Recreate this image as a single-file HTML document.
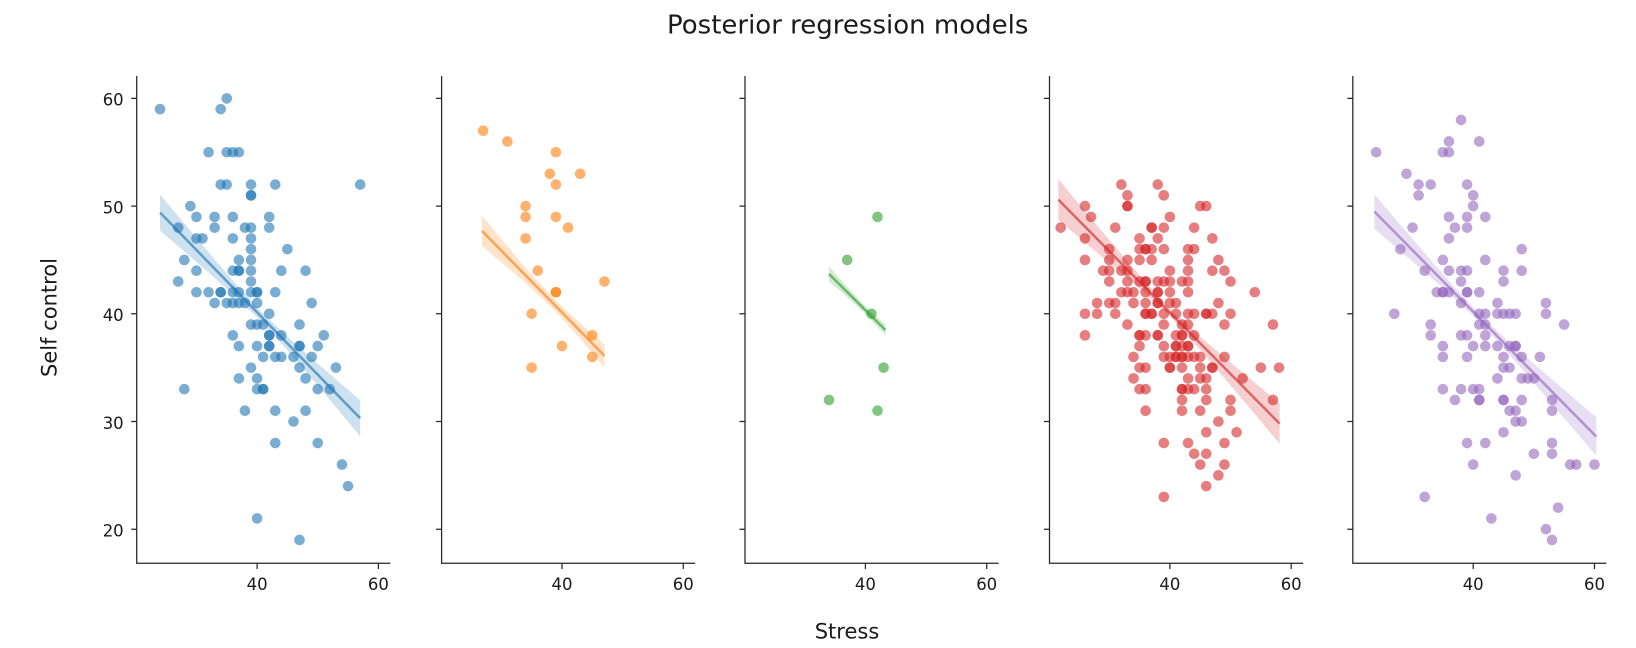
<!DOCTYPE html>
<html>
<head>
<meta charset="utf-8">
<style>
html,body{margin:0;padding:0;background:#fff;}
svg{display:block;}
text{font-family:"DejaVu Sans","Liberation Sans",sans-serif;fill:#1a1a1a;}
.tk{font-size:16.5px;}
.lb{font-size:21px;}
.ti{font-size:26px;}
.ax{stroke:#262626;stroke-width:1.25;fill:none;}
</style>
</head>
<body>
<svg width="1636" height="648" viewBox="0 0 1636 648" xmlns="http://www.w3.org/2000/svg">
<rect width="1636" height="648" fill="#fff"/>
<text class="ti" x="847.7" y="33.5" text-anchor="middle">Posterior regression models</text>
<text class="lb" x="847" y="638.3" text-anchor="middle">Stress</text>
<text class="lb" transform="translate(56.7 317.5) rotate(-90)" text-anchor="middle">Self control</text>

<!-- Panel 1 (blue) -->
<g transform="matrix(6.065 0 0 -10.77 14.49 744.6)">
<g fill="#1f77b4" fill-opacity="0.6">
<ellipse cx="24" cy="59" rx=".874" ry=".492"/><ellipse cx="35" cy="60" rx=".874" ry=".492"/><ellipse cx="34" cy="59" rx=".874" ry=".492"/><ellipse cx="32" cy="55" rx=".874" ry=".492"/><ellipse cx="35" cy="55" rx=".874" ry=".492"/><ellipse cx="36" cy="55" rx=".874" ry=".492"/><ellipse cx="37" cy="55" rx=".874" ry=".492"/><ellipse cx="34" cy="52" rx=".874" ry=".492"/><ellipse cx="35" cy="52" rx=".874" ry=".492"/><ellipse cx="39" cy="52" rx=".874" ry=".492"/><ellipse cx="39" cy="51" rx=".874" ry=".492"/><ellipse cx="39" cy="51" rx=".874" ry=".492"/><ellipse cx="43" cy="52" rx=".874" ry=".492"/><ellipse cx="57" cy="52" rx=".874" ry=".492"/><ellipse cx="29" cy="50" rx=".874" ry=".492"/><ellipse cx="30" cy="49" rx=".874" ry=".492"/><ellipse cx="27" cy="48" rx=".874" ry=".492"/><ellipse cx="33" cy="49" rx=".874" ry=".492"/><ellipse cx="33" cy="48" rx=".874" ry=".492"/><ellipse cx="36" cy="49" rx=".874" ry=".492"/><ellipse cx="38" cy="48" rx=".874" ry=".492"/><ellipse cx="39" cy="48" rx=".874" ry=".492"/><ellipse cx="42" cy="49" rx=".874" ry=".492"/><ellipse cx="42" cy="48" rx=".874" ry=".492"/><ellipse cx="30" cy="47" rx=".874" ry=".492"/><ellipse cx="31" cy="47" rx=".874" ry=".492"/><ellipse cx="36" cy="47" rx=".874" ry=".492"/><ellipse cx="39" cy="47" rx=".874" ry=".492"/><ellipse cx="39" cy="46" rx=".874" ry=".492"/><ellipse cx="45" cy="46" rx=".874" ry=".492"/><ellipse cx="28" cy="45" rx=".874" ry=".492"/><ellipse cx="37" cy="45" rx=".874" ry=".492"/><ellipse cx="39" cy="45" rx=".874" ry=".492"/><ellipse cx="30" cy="44" rx=".874" ry=".492"/><ellipse cx="36" cy="44" rx=".874" ry=".492"/><ellipse cx="37" cy="44" rx=".874" ry=".492"/><ellipse cx="37" cy="44" rx=".874" ry=".492"/><ellipse cx="39" cy="44" rx=".874" ry=".492"/><ellipse cx="44" cy="44" rx=".874" ry=".492"/><ellipse cx="48" cy="44" rx=".874" ry=".492"/><ellipse cx="27" cy="43" rx=".874" ry=".492"/><ellipse cx="39" cy="43" rx=".874" ry=".492"/><ellipse cx="30" cy="42" rx=".874" ry=".492"/><ellipse cx="32" cy="42" rx=".874" ry=".492"/><ellipse cx="34" cy="42" rx=".874" ry=".492"/><ellipse cx="34" cy="42" rx=".874" ry=".492"/><ellipse cx="36" cy="42" rx=".874" ry=".492"/><ellipse cx="37" cy="42" rx=".874" ry=".492"/><ellipse cx="39" cy="42" rx=".874" ry=".492"/><ellipse cx="40" cy="42" rx=".874" ry=".492"/><ellipse cx="40" cy="42" rx=".874" ry=".492"/><ellipse cx="43" cy="42" rx=".874" ry=".492"/><ellipse cx="33" cy="41" rx=".874" ry=".492"/><ellipse cx="35" cy="41" rx=".874" ry=".492"/><ellipse cx="36" cy="41" rx=".874" ry=".492"/><ellipse cx="37" cy="41" rx=".874" ry=".492"/><ellipse cx="38" cy="41" rx=".874" ry=".492"/><ellipse cx="40" cy="41" rx=".874" ry=".492"/><ellipse cx="49" cy="41" rx=".874" ry=".492"/><ellipse cx="39" cy="39" rx=".874" ry=".492"/><ellipse cx="40" cy="39" rx=".874" ry=".492"/><ellipse cx="41" cy="39" rx=".874" ry=".492"/><ellipse cx="42" cy="40" rx=".874" ry=".492"/><ellipse cx="47" cy="39" rx=".874" ry=".492"/><ellipse cx="36" cy="38" rx=".874" ry=".492"/><ellipse cx="42" cy="38" rx=".874" ry=".492"/><ellipse cx="42" cy="38" rx=".874" ry=".492"/><ellipse cx="44" cy="38" rx=".874" ry=".492"/><ellipse cx="51" cy="38" rx=".874" ry=".492"/><ellipse cx="37" cy="37" rx=".874" ry=".492"/><ellipse cx="40" cy="37" rx=".874" ry=".492"/><ellipse cx="42" cy="37" rx=".874" ry=".492"/><ellipse cx="42" cy="37" rx=".874" ry=".492"/><ellipse cx="47" cy="37" rx=".874" ry=".492"/><ellipse cx="47" cy="37" rx=".874" ry=".492"/><ellipse cx="50" cy="37" rx=".874" ry=".492"/><ellipse cx="41" cy="36" rx=".874" ry=".492"/><ellipse cx="43" cy="36" rx=".874" ry=".492"/><ellipse cx="44" cy="36" rx=".874" ry=".492"/><ellipse cx="46" cy="36" rx=".874" ry=".492"/><ellipse cx="49" cy="36" rx=".874" ry=".492"/><ellipse cx="39" cy="35" rx=".874" ry=".492"/><ellipse cx="47" cy="35" rx=".874" ry=".492"/><ellipse cx="53" cy="35" rx=".874" ry=".492"/><ellipse cx="37" cy="34" rx=".874" ry=".492"/><ellipse cx="40" cy="34" rx=".874" ry=".492"/><ellipse cx="48" cy="34" rx=".874" ry=".492"/><ellipse cx="28" cy="33" rx=".874" ry=".492"/><ellipse cx="40" cy="33" rx=".874" ry=".492"/><ellipse cx="41" cy="33" rx=".874" ry=".492"/><ellipse cx="41" cy="33" rx=".874" ry=".492"/><ellipse cx="50" cy="33" rx=".874" ry=".492"/><ellipse cx="52" cy="33" rx=".874" ry=".492"/><ellipse cx="38" cy="31" rx=".874" ry=".492"/><ellipse cx="43" cy="31" rx=".874" ry=".492"/><ellipse cx="48" cy="31" rx=".874" ry=".492"/><ellipse cx="46" cy="30" rx=".874" ry=".492"/><ellipse cx="43" cy="28" rx=".874" ry=".492"/><ellipse cx="50" cy="28" rx=".874" ry=".492"/><ellipse cx="54" cy="26" rx=".874" ry=".492"/><ellipse cx="55" cy="24" rx=".874" ry=".492"/><ellipse cx="40" cy="21" rx=".874" ry=".492"/><ellipse cx="47" cy="19" rx=".874" ry=".492"/>
</g>
<polygon fill="#1f77b4" fill-opacity="0.22" points="24,51.07 28,48.38 32,45.71 36,43.08 40.5,40.30 45,37.87 49,35.87 53,33.91 57,31.97 57,28.63 53,31.32 49,33.99 45,36.62 40.5,39.40 36,41.83 32,43.83 28,45.79 24,47.73"/>
<path d="M24 49.4 L57 30.3" stroke="#1f77b4" stroke-opacity="0.65" stroke-width="2.5" vector-effect="non-scaling-stroke" fill="none"/>
</g>

<!-- Panel 2 (orange) -->
<g transform="matrix(6.065 0 0 -10.77 319.39 744.6)">
<g fill="#ff7f0e" fill-opacity="0.6">
<ellipse cx="27" cy="57" rx=".874" ry=".492"/><ellipse cx="31" cy="56" rx=".874" ry=".492"/><ellipse cx="39" cy="55" rx=".874" ry=".492"/><ellipse cx="38" cy="53" rx=".874" ry=".492"/><ellipse cx="43" cy="53" rx=".874" ry=".492"/><ellipse cx="39" cy="52" rx=".874" ry=".492"/><ellipse cx="34" cy="50" rx=".874" ry=".492"/><ellipse cx="34" cy="49" rx=".874" ry=".492"/><ellipse cx="39" cy="49" rx=".874" ry=".492"/><ellipse cx="41" cy="48" rx=".874" ry=".492"/><ellipse cx="34" cy="47" rx=".874" ry=".492"/><ellipse cx="36" cy="44" rx=".874" ry=".492"/><ellipse cx="47" cy="43" rx=".874" ry=".492"/><ellipse cx="39" cy="42" rx=".874" ry=".492"/><ellipse cx="39" cy="42" rx=".874" ry=".492"/><ellipse cx="35" cy="40" rx=".874" ry=".492"/><ellipse cx="45" cy="38" rx=".874" ry=".492"/><ellipse cx="40" cy="37" rx=".874" ry=".492"/><ellipse cx="45" cy="36" rx=".874" ry=".492"/><ellipse cx="35" cy="35" rx=".874" ry=".492"/>
</g>
<polygon fill="#ff7f0e" fill-opacity="0.22" points="26.8,49.12 30,46.94 34,44.28 38.5,41.48 43,39.11 47,37.18 47,35.02 43,37.69 38.5,40.48 34,42.85 30,44.78 26.8,46.29"/>
<path d="M26.8 47.7 L47 36.1" stroke="#ff7f0e" stroke-opacity="0.65" stroke-width="2.5" vector-effect="non-scaling-stroke" fill="none"/>
</g>

<!-- Panel 3 (green) -->
<g transform="matrix(6.065 0 0 -10.77 622.79 744.6)">
<g fill="#2ca02c" fill-opacity="0.6">
<ellipse cx="42" cy="49" rx=".874" ry=".492"/><ellipse cx="37" cy="45" rx=".874" ry=".492"/><ellipse cx="41" cy="40" rx=".874" ry=".492"/><ellipse cx="43" cy="35" rx=".874" ry=".492"/><ellipse cx="34" cy="32" rx=".874" ry=".492"/><ellipse cx="42" cy="31" rx=".874" ry=".492"/>
</g>
<polygon fill="#2ca02c" fill-opacity="0.22" points="34,44.4 36.5,42.79 39.8,40.81 43.3,39.0 43.3,38.0 39.8,40.11 36.5,41.81 34,43.0"/>
<path d="M34 43.7 L43.3 38.5" stroke="#2ca02c" stroke-opacity="0.65" stroke-width="2.5" vector-effect="non-scaling-stroke" fill="none"/>
</g>

<!-- Panel 4 (red) -->
<g transform="matrix(6.065 0 0 -10.77 927.29 744.6)">
<g fill="#d62728" fill-opacity="0.6">
<ellipse cx="32" cy="52" rx=".874" ry=".492"/><ellipse cx="38" cy="52" rx=".874" ry=".492"/><ellipse cx="33" cy="51" rx=".874" ry=".492"/><ellipse cx="39" cy="51" rx=".874" ry=".492"/><ellipse cx="26" cy="50" rx=".874" ry=".492"/><ellipse cx="33" cy="50" rx=".874" ry=".492"/><ellipse cx="33" cy="50" rx=".874" ry=".492"/><ellipse cx="45" cy="50" rx=".874" ry=".492"/><ellipse cx="46" cy="50" rx=".874" ry=".492"/><ellipse cx="27" cy="49" rx=".874" ry=".492"/><ellipse cx="40" cy="49" rx=".874" ry=".492"/><ellipse cx="22" cy="48" rx=".874" ry=".492"/><ellipse cx="31" cy="48" rx=".874" ry=".492"/><ellipse cx="37" cy="48" rx=".874" ry=".492"/><ellipse cx="37" cy="48" rx=".874" ry=".492"/><ellipse cx="39" cy="48" rx=".874" ry=".492"/><ellipse cx="44" cy="48" rx=".874" ry=".492"/><ellipse cx="26" cy="47" rx=".874" ry=".492"/><ellipse cx="35" cy="47" rx=".874" ry=".492"/><ellipse cx="38" cy="47" rx=".874" ry=".492"/><ellipse cx="47" cy="47" rx=".874" ry=".492"/><ellipse cx="30" cy="46" rx=".874" ry=".492"/><ellipse cx="35" cy="46" rx=".874" ry=".492"/><ellipse cx="36" cy="46" rx=".874" ry=".492"/><ellipse cx="36" cy="46" rx=".874" ry=".492"/><ellipse cx="37" cy="46" rx=".874" ry=".492"/><ellipse cx="39" cy="46" rx=".874" ry=".492"/><ellipse cx="43" cy="46" rx=".874" ry=".492"/><ellipse cx="44" cy="46" rx=".874" ry=".492"/><ellipse cx="26" cy="45" rx=".874" ry=".492"/><ellipse cx="30" cy="45" rx=".874" ry=".492"/><ellipse cx="33" cy="45" rx=".874" ry=".492"/><ellipse cx="35" cy="45" rx=".874" ry=".492"/><ellipse cx="37" cy="45" rx=".874" ry=".492"/><ellipse cx="43" cy="45" rx=".874" ry=".492"/><ellipse cx="48" cy="45" rx=".874" ry=".492"/><ellipse cx="29" cy="44" rx=".874" ry=".492"/><ellipse cx="30" cy="44" rx=".874" ry=".492"/><ellipse cx="32" cy="44" rx=".874" ry=".492"/><ellipse cx="33" cy="44" rx=".874" ry=".492"/><ellipse cx="40" cy="44" rx=".874" ry=".492"/><ellipse cx="43" cy="44" rx=".874" ry=".492"/><ellipse cx="47" cy="44" rx=".874" ry=".492"/><ellipse cx="49" cy="44" rx=".874" ry=".492"/><ellipse cx="30" cy="43" rx=".874" ry=".492"/><ellipse cx="33" cy="43" rx=".874" ry=".492"/><ellipse cx="35" cy="43" rx=".874" ry=".492"/><ellipse cx="36" cy="43" rx=".874" ry=".492"/><ellipse cx="36" cy="43" rx=".874" ry=".492"/><ellipse cx="38" cy="43" rx=".874" ry=".492"/><ellipse cx="39" cy="43" rx=".874" ry=".492"/><ellipse cx="40" cy="43" rx=".874" ry=".492"/><ellipse cx="42" cy="43" rx=".874" ry=".492"/><ellipse cx="43" cy="43" rx=".874" ry=".492"/><ellipse cx="50" cy="43" rx=".874" ry=".492"/><ellipse cx="32" cy="42" rx=".874" ry=".492"/><ellipse cx="33" cy="42" rx=".874" ry=".492"/><ellipse cx="34" cy="42" rx=".874" ry=".492"/><ellipse cx="36" cy="42" rx=".874" ry=".492"/><ellipse cx="38" cy="42" rx=".874" ry=".492"/><ellipse cx="38" cy="42" rx=".874" ry=".492"/><ellipse cx="40" cy="42" rx=".874" ry=".492"/><ellipse cx="43" cy="42" rx=".874" ry=".492"/><ellipse cx="54" cy="42" rx=".874" ry=".492"/><ellipse cx="28" cy="41" rx=".874" ry=".492"/><ellipse cx="30" cy="41" rx=".874" ry=".492"/><ellipse cx="31" cy="41" rx=".874" ry=".492"/><ellipse cx="34" cy="41" rx=".874" ry=".492"/><ellipse cx="36" cy="41" rx=".874" ry=".492"/><ellipse cx="38" cy="41" rx=".874" ry=".492"/><ellipse cx="38" cy="41" rx=".874" ry=".492"/><ellipse cx="40" cy="41" rx=".874" ry=".492"/><ellipse cx="41" cy="41" rx=".874" ry=".492"/><ellipse cx="48" cy="41" rx=".874" ry=".492"/><ellipse cx="26" cy="40" rx=".874" ry=".492"/><ellipse cx="28" cy="40" rx=".874" ry=".492"/><ellipse cx="31" cy="40" rx=".874" ry=".492"/><ellipse cx="36" cy="40" rx=".874" ry=".492"/><ellipse cx="36" cy="40" rx=".874" ry=".492"/><ellipse cx="37" cy="40" rx=".874" ry=".492"/><ellipse cx="37" cy="40" rx=".874" ry=".492"/><ellipse cx="39" cy="40" rx=".874" ry=".492"/><ellipse cx="41" cy="40" rx=".874" ry=".492"/><ellipse cx="43" cy="40" rx=".874" ry=".492"/><ellipse cx="44" cy="40" rx=".874" ry=".492"/><ellipse cx="46" cy="40" rx=".874" ry=".492"/><ellipse cx="46" cy="40" rx=".874" ry=".492"/><ellipse cx="47" cy="40" rx=".874" ry=".492"/><ellipse cx="50" cy="40" rx=".874" ry=".492"/><ellipse cx="33" cy="39" rx=".874" ry=".492"/><ellipse cx="39" cy="39" rx=".874" ry=".492"/><ellipse cx="42" cy="39" rx=".874" ry=".492"/><ellipse cx="43" cy="39" rx=".874" ry=".492"/><ellipse cx="49" cy="39" rx=".874" ry=".492"/><ellipse cx="57" cy="39" rx=".874" ry=".492"/><ellipse cx="26" cy="38" rx=".874" ry=".492"/><ellipse cx="35" cy="38" rx=".874" ry=".492"/><ellipse cx="35" cy="38" rx=".874" ry=".492"/><ellipse cx="36" cy="38" rx=".874" ry=".492"/><ellipse cx="38" cy="38" rx=".874" ry=".492"/><ellipse cx="38" cy="38" rx=".874" ry=".492"/><ellipse cx="41" cy="38" rx=".874" ry=".492"/><ellipse cx="42" cy="38" rx=".874" ry=".492"/><ellipse cx="42" cy="38" rx=".874" ry=".492"/><ellipse cx="44" cy="38" rx=".874" ry=".492"/><ellipse cx="35" cy="37" rx=".874" ry=".492"/><ellipse cx="39" cy="37" rx=".874" ry=".492"/><ellipse cx="41" cy="37" rx=".874" ry=".492"/><ellipse cx="41" cy="37" rx=".874" ry=".492"/><ellipse cx="42" cy="37" rx=".874" ry=".492"/><ellipse cx="43" cy="37" rx=".874" ry=".492"/><ellipse cx="43" cy="37" rx=".874" ry=".492"/><ellipse cx="34" cy="36" rx=".874" ry=".492"/><ellipse cx="39" cy="36" rx=".874" ry=".492"/><ellipse cx="40" cy="36" rx=".874" ry=".492"/><ellipse cx="41" cy="36" rx=".874" ry=".492"/><ellipse cx="41" cy="36" rx=".874" ry=".492"/><ellipse cx="42" cy="36" rx=".874" ry=".492"/><ellipse cx="42" cy="36" rx=".874" ry=".492"/><ellipse cx="43" cy="36" rx=".874" ry=".492"/><ellipse cx="44" cy="36" rx=".874" ry=".492"/><ellipse cx="45" cy="36" rx=".874" ry=".492"/><ellipse cx="49" cy="36" rx=".874" ry=".492"/><ellipse cx="35" cy="35" rx=".874" ry=".492"/><ellipse cx="36" cy="35" rx=".874" ry=".492"/><ellipse cx="40" cy="35" rx=".874" ry=".492"/><ellipse cx="40" cy="35" rx=".874" ry=".492"/><ellipse cx="42" cy="35" rx=".874" ry=".492"/><ellipse cx="45" cy="35" rx=".874" ry=".492"/><ellipse cx="47" cy="35" rx=".874" ry=".492"/><ellipse cx="47" cy="35" rx=".874" ry=".492"/><ellipse cx="55" cy="35" rx=".874" ry=".492"/><ellipse cx="58" cy="35" rx=".874" ry=".492"/><ellipse cx="34" cy="34" rx=".874" ry=".492"/><ellipse cx="43" cy="34" rx=".874" ry=".492"/><ellipse cx="45" cy="34" rx=".874" ry=".492"/><ellipse cx="46" cy="34" rx=".874" ry=".492"/><ellipse cx="52" cy="34" rx=".874" ry=".492"/><ellipse cx="35" cy="33" rx=".874" ry=".492"/><ellipse cx="36" cy="33" rx=".874" ry=".492"/><ellipse cx="42" cy="33" rx=".874" ry=".492"/><ellipse cx="42" cy="33" rx=".874" ry=".492"/><ellipse cx="43" cy="33" rx=".874" ry=".492"/><ellipse cx="44" cy="33" rx=".874" ry=".492"/><ellipse cx="46" cy="33" rx=".874" ry=".492"/><ellipse cx="42" cy="32" rx=".874" ry=".492"/><ellipse cx="46" cy="32" rx=".874" ry=".492"/><ellipse cx="50" cy="32" rx=".874" ry=".492"/><ellipse cx="57" cy="32" rx=".874" ry=".492"/><ellipse cx="36" cy="31" rx=".874" ry=".492"/><ellipse cx="42" cy="31" rx=".874" ry=".492"/><ellipse cx="45" cy="31" rx=".874" ry=".492"/><ellipse cx="50" cy="31" rx=".874" ry=".492"/><ellipse cx="48" cy="30" rx=".874" ry=".492"/><ellipse cx="46" cy="29" rx=".874" ry=".492"/><ellipse cx="51" cy="29" rx=".874" ry=".492"/><ellipse cx="39" cy="28" rx=".874" ry=".492"/><ellipse cx="43" cy="28" rx=".874" ry=".492"/><ellipse cx="49" cy="28" rx=".874" ry=".492"/><ellipse cx="44" cy="27" rx=".874" ry=".492"/><ellipse cx="46" cy="27" rx=".874" ry=".492"/><ellipse cx="45" cy="26" rx=".874" ry=".492"/><ellipse cx="49" cy="26" rx=".874" ry=".492"/><ellipse cx="48" cy="25" rx=".874" ry=".492"/><ellipse cx="46" cy="24" rx=".874" ry=".492"/><ellipse cx="39" cy="23" rx=".874" ry=".492"/>
</g>
<polygon fill="#d62728" fill-opacity="0.22" points="21.6,52.5 26,49.55 30,46.88 34,44.22 40,40.43 46,37.38 50,35.49 54,33.60 58.1,31.67 58.1,27.93 54,30.68 50,33.35 46,36.0 40,39.79 34,42.84 30,44.74 26,46.63 21.6,48.7"/>
<path d="M21.6 50.6 L58.1 29.8" stroke="#d62728" stroke-opacity="0.65" stroke-width="2.5" vector-effect="non-scaling-stroke" fill="none"/>
</g>

<!-- Panel 5 (purple) -->
<g transform="matrix(6.065 0 0 -10.77 1230.59 744.6)">
<g fill="#9467bd" fill-opacity="0.6">
<ellipse cx="38" cy="58" rx=".874" ry=".492"/><ellipse cx="36" cy="56" rx=".874" ry=".492"/><ellipse cx="41" cy="56" rx=".874" ry=".492"/><ellipse cx="24" cy="55" rx=".874" ry=".492"/><ellipse cx="35" cy="55" rx=".874" ry=".492"/><ellipse cx="36" cy="55" rx=".874" ry=".492"/><ellipse cx="29" cy="53" rx=".874" ry=".492"/><ellipse cx="31" cy="52" rx=".874" ry=".492"/><ellipse cx="33" cy="52" rx=".874" ry=".492"/><ellipse cx="39" cy="52" rx=".874" ry=".492"/><ellipse cx="31" cy="51" rx=".874" ry=".492"/><ellipse cx="40" cy="51" rx=".874" ry=".492"/><ellipse cx="40" cy="50" rx=".874" ry=".492"/><ellipse cx="30" cy="48" rx=".874" ry=".492"/><ellipse cx="36" cy="49" rx=".874" ry=".492"/><ellipse cx="39" cy="49" rx=".874" ry=".492"/><ellipse cx="42" cy="49" rx=".874" ry=".492"/><ellipse cx="37" cy="48" rx=".874" ry=".492"/><ellipse cx="39" cy="48" rx=".874" ry=".492"/><ellipse cx="36" cy="47" rx=".874" ry=".492"/><ellipse cx="28" cy="46" rx=".874" ry=".492"/><ellipse cx="48" cy="46" rx=".874" ry=".492"/><ellipse cx="35" cy="45" rx=".874" ry=".492"/><ellipse cx="42" cy="45" rx=".874" ry=".492"/><ellipse cx="32" cy="44" rx=".874" ry=".492"/><ellipse cx="36" cy="44" rx=".874" ry=".492"/><ellipse cx="38" cy="44" rx=".874" ry=".492"/><ellipse cx="39" cy="44" rx=".874" ry=".492"/><ellipse cx="45" cy="44" rx=".874" ry=".492"/><ellipse cx="48" cy="44" rx=".874" ry=".492"/><ellipse cx="38" cy="43" rx=".874" ry=".492"/><ellipse cx="45" cy="43" rx=".874" ry=".492"/><ellipse cx="34" cy="42" rx=".874" ry=".492"/><ellipse cx="35" cy="42" rx=".874" ry=".492"/><ellipse cx="35" cy="42" rx=".874" ry=".492"/><ellipse cx="36" cy="42" rx=".874" ry=".492"/><ellipse cx="39" cy="42" rx=".874" ry=".492"/><ellipse cx="39" cy="42" rx=".874" ry=".492"/><ellipse cx="41" cy="42" rx=".874" ry=".492"/><ellipse cx="38" cy="41" rx=".874" ry=".492"/><ellipse cx="44" cy="41" rx=".874" ry=".492"/><ellipse cx="52" cy="41" rx=".874" ry=".492"/><ellipse cx="27" cy="40" rx=".874" ry=".492"/><ellipse cx="41" cy="40" rx=".874" ry=".492"/><ellipse cx="42" cy="40" rx=".874" ry=".492"/><ellipse cx="44" cy="40" rx=".874" ry=".492"/><ellipse cx="45" cy="40" rx=".874" ry=".492"/><ellipse cx="46" cy="40" rx=".874" ry=".492"/><ellipse cx="47" cy="40" rx=".874" ry=".492"/><ellipse cx="52" cy="40" rx=".874" ry=".492"/><ellipse cx="33" cy="39" rx=".874" ry=".492"/><ellipse cx="41" cy="39" rx=".874" ry=".492"/><ellipse cx="42" cy="39" rx=".874" ry=".492"/><ellipse cx="55" cy="39" rx=".874" ry=".492"/><ellipse cx="33" cy="38" rx=".874" ry=".492"/><ellipse cx="38" cy="38" rx=".874" ry=".492"/><ellipse cx="39" cy="38" rx=".874" ry=".492"/><ellipse cx="42" cy="38" rx=".874" ry=".492"/><ellipse cx="35" cy="37" rx=".874" ry=".492"/><ellipse cx="40" cy="37" rx=".874" ry=".492"/><ellipse cx="42" cy="37" rx=".874" ry=".492"/><ellipse cx="44" cy="37" rx=".874" ry=".492"/><ellipse cx="46" cy="37" rx=".874" ry=".492"/><ellipse cx="47" cy="37" rx=".874" ry=".492"/><ellipse cx="47" cy="37" rx=".874" ry=".492"/><ellipse cx="35" cy="36" rx=".874" ry=".492"/><ellipse cx="39" cy="36" rx=".874" ry=".492"/><ellipse cx="45" cy="36" rx=".874" ry=".492"/><ellipse cx="48" cy="36" rx=".874" ry=".492"/><ellipse cx="51" cy="36" rx=".874" ry=".492"/><ellipse cx="45" cy="35" rx=".874" ry=".492"/><ellipse cx="46" cy="35" rx=".874" ry=".492"/><ellipse cx="44" cy="34" rx=".874" ry=".492"/><ellipse cx="48" cy="34" rx=".874" ry=".492"/><ellipse cx="49" cy="34" rx=".874" ry=".492"/><ellipse cx="50" cy="34" rx=".874" ry=".492"/><ellipse cx="35" cy="33" rx=".874" ry=".492"/><ellipse cx="38" cy="33" rx=".874" ry=".492"/><ellipse cx="40" cy="33" rx=".874" ry=".492"/><ellipse cx="41" cy="33" rx=".874" ry=".492"/><ellipse cx="37" cy="32" rx=".874" ry=".492"/><ellipse cx="41" cy="32" rx=".874" ry=".492"/><ellipse cx="41" cy="32" rx=".874" ry=".492"/><ellipse cx="45" cy="32" rx=".874" ry=".492"/><ellipse cx="45" cy="32" rx=".874" ry=".492"/><ellipse cx="48" cy="32" rx=".874" ry=".492"/><ellipse cx="53" cy="32" rx=".874" ry=".492"/><ellipse cx="46" cy="31" rx=".874" ry=".492"/><ellipse cx="47" cy="31" rx=".874" ry=".492"/><ellipse cx="53" cy="31" rx=".874" ry=".492"/><ellipse cx="47" cy="30" rx=".874" ry=".492"/><ellipse cx="48" cy="30" rx=".874" ry=".492"/><ellipse cx="45" cy="29" rx=".874" ry=".492"/><ellipse cx="39" cy="28" rx=".874" ry=".492"/><ellipse cx="42" cy="28" rx=".874" ry=".492"/><ellipse cx="53" cy="28" rx=".874" ry=".492"/><ellipse cx="50" cy="27" rx=".874" ry=".492"/><ellipse cx="53" cy="27" rx=".874" ry=".492"/><ellipse cx="40" cy="26" rx=".874" ry=".492"/><ellipse cx="56" cy="26" rx=".874" ry=".492"/><ellipse cx="57" cy="26" rx=".874" ry=".492"/><ellipse cx="60" cy="26" rx=".874" ry=".492"/><ellipse cx="47" cy="25" rx=".874" ry=".492"/><ellipse cx="32" cy="23" rx=".874" ry=".492"/><ellipse cx="54" cy="22" rx=".874" ry=".492"/><ellipse cx="43" cy="21" rx=".874" ry=".492"/><ellipse cx="52" cy="20" rx=".874" ry=".492"/><ellipse cx="53" cy="19" rx=".874" ry=".492"/>
</g>
<polygon fill="#9467bd" fill-opacity="0.22" points="23.7,51.1 28,48.26 32,45.64 36,43.05 41,39.97 46,37.34 50,35.36 55,32.94 60.3,30.38 60.3,26.82 55,30.32 50,33.6 46,36.2 41,39.27 36,41.91 32,43.88 28,45.82 23.7,47.9"/>
<path d="M23.7 49.5 L60.3 28.6" stroke="#9467bd" stroke-opacity="0.65" stroke-width="2.5" vector-effect="non-scaling-stroke" fill="none"/>
</g>

<!-- Axes: spines + ticks -->
<g class="ax">
<path d="M136.7 76 V563.3 H390.3"/>
<path d="M131.2 98.4 H136.7 M131.2 206.1 H136.7 M131.2 313.8 H136.7 M131.2 421.5 H136.7 M131.2 529.2 H136.7"/>
<path d="M257.1 563.3 V569 M378.4 563.3 V569"/>

<path d="M441.6 76 V563.3 H695.2"/>
<path d="M436.1 98.4 H441.6 M436.1 206.1 H441.6 M436.1 313.8 H441.6 M436.1 421.5 H441.6 M436.1 529.2 H441.6"/>
<path d="M562 563.3 V569 M683.3 563.3 V569"/>

<path d="M745 76 V563.3 H998.6"/>
<path d="M739.5 98.4 H745 M739.5 206.1 H745 M739.5 313.8 H745 M739.5 421.5 H745 M739.5 529.2 H745"/>
<path d="M865.4 563.3 V569 M986.7 563.3 V569"/>

<path d="M1049.5 76 V563.3 H1303.1"/>
<path d="M1044 98.4 H1049.5 M1044 206.1 H1049.5 M1044 313.8 H1049.5 M1044 421.5 H1049.5 M1044 529.2 H1049.5"/>
<path d="M1169.9 563.3 V569 M1291.2 563.3 V569"/>

<path d="M1352.8 76 V563.3 H1606.4"/>
<path d="M1347.3 98.4 H1352.8 M1347.3 206.1 H1352.8 M1347.3 313.8 H1352.8 M1347.3 421.5 H1352.8 M1347.3 529.2 H1352.8"/>
<path d="M1473.2 563.3 V569 M1594.5 563.3 V569"/>
</g>

<!-- Y tick labels (first panel only) -->
<g class="tk" text-anchor="end">
<text x="123.7" y="105.7">60</text>
<text x="123.7" y="213.4">50</text>
<text x="123.7" y="321.1">40</text>
<text x="123.7" y="428.8">30</text>
<text x="123.7" y="536.5">20</text>
</g>

<!-- X tick labels -->
<g class="tk" text-anchor="middle">
<text x="257.1" y="590">40</text><text x="378.4" y="590">60</text>
<text x="562" y="590">40</text><text x="683.3" y="590">60</text>
<text x="865.4" y="590">40</text><text x="986.7" y="590">60</text>
<text x="1169.9" y="590">40</text><text x="1291.2" y="590">60</text>
<text x="1473.2" y="590">40</text><text x="1594.5" y="590">60</text>
</g>
</svg>
</body>
</html>
